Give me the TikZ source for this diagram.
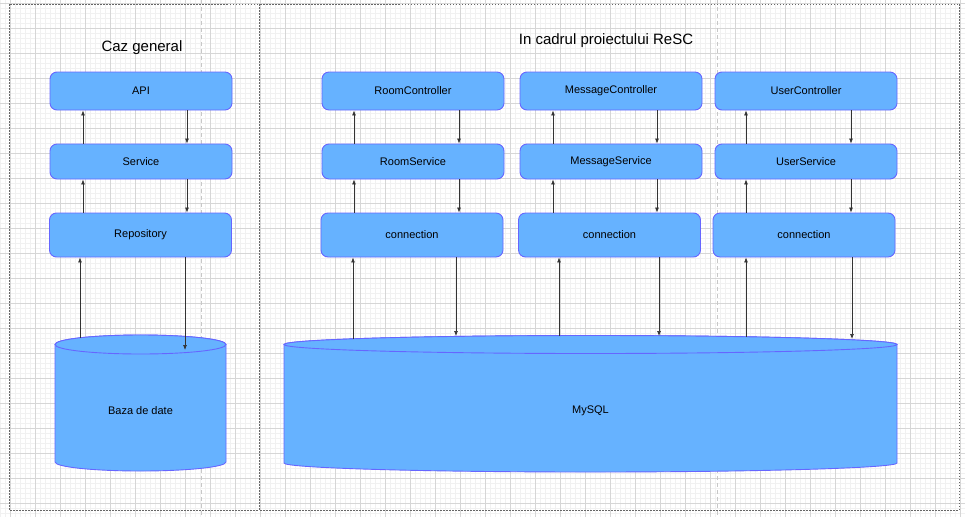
\documentclass[tikz,border=0pt]{standalone}
\usepackage{fontspec}
\setmainfont{Liberation Sans}
\usetikzlibrary{arrows.meta}
\definecolor{boxfill}{HTML}{66B2FF}
\definecolor{boxline}{HTML}{6666FF}
\definecolor{gridmin}{HTML}{F1F1F1}
\definecolor{gridmaj}{HTML}{D6D6D6}

\begin{document}
\begin{tikzpicture}[x=1pt,y=-1pt]
\tikzstyle{every node}=[font=\fontsize{11}{13}\selectfont]
\tikzstyle{layer}=[draw=boxline,fill=boxfill,rounded corners=7pt,minimum width=182pt,inner sep=0pt,line width=0.9pt]
\tikzstyle{ctrl}=[layer,minimum height=38pt]
\tikzstyle{svc}=[layer,minimum height=35pt]
\tikzstyle{conn}=[layer,minimum height=44pt]
\tikzstyle{flow}=[-{Latex[length=5pt,width=4pt]},draw=black!80,line width=0.7pt]
\tikzstyle{frame}=[draw=black!60,dash pattern=on 1.5pt off 1.5pt,line width=0.6pt]
\tikzstyle{pagebreak}=[draw=black!22,dash pattern=on 4pt off 3pt,line width=0.8pt]
\tikzstyle{db}=[draw=boxline,fill=boxfill,line width=0.9pt]
\tikzstyle{heading}=[font=\fontsize{15}{18}\selectfont]

\useasboundingbox (0,0) rectangle (965,517);
%% background grid
\foreach \x in {0,5,...,965} \draw[gridmin,line width=0.6pt] (\x,0) -- (\x,517);
\foreach \y in {3,8,...,517} \draw[gridmin,line width=0.6pt] (0,\y) -- (965,\y);
\foreach \x in {10,35,...,965} \draw[gridmaj,line width=0.6pt] (\x,0) -- (\x,517);
\foreach \y in {3,28,...,517} \draw[gridmaj,line width=0.6pt] (0,\y) -- (965,\y);
\draw[pagebreak] (201.5,0) -- (201.5,517);
\draw[pagebreak] (717.5,0) -- (717.5,517);

%% frames
\draw[frame] (9,4) rectangle (259,510);
\draw[frame] (259,4) rectangle (959,510);

\node[heading] (general) at (142,48) {Caz general};
\node[heading] (resc) at (606,41) {In cadrul proiectului ReSC};

%% general case
\node[ctrl] (api) at (141,91) {API};
\node[svc] (svc) at (141,161.5) {Service};
\node[conn] (repo) at (140.5,235) {Repository};

%% ReSC layers
\node[ctrl] (roomctrl) at (413,91) {RoomController};
\node[svc] (roomsvc) at (413,161.5) {RoomService};
\node[conn] (roomconn) at (412,235) {connection};

\node[ctrl] (msgctrl) at (611,91) {MessageController};
\node[svc] (msgsvc) at (611,161.5) {MessageService};
\node[conn] (msgconn) at (609.5,235) {connection};

\node[ctrl] (userctrl) at (806,91) {UserController};
\node[svc] (usersvc) at (806,161.5) {UserService};
\node[conn] (userconn) at (804,235) {connection};

%% databases
\path[db] (55,344.5) -- (55,462) arc[start angle=180,end angle=0,x radius=85.5,y radius=9]
  -- (226,344.5) arc[start angle=0,end angle=-180,x radius=85.5,y radius=9.5] -- cycle;
\path[db] (140.5,344.5) ellipse[x radius=85.5,y radius=9.5];
\node (bazadate) at (140.5,411) {Baza de date};

\path[db] (284,344.5) -- (284,463) arc[start angle=180,end angle=0,x radius=306.5,y radius=9]
  -- (897,344.5) arc[start angle=0,end angle=-180,x radius=306.5,y radius=9] -- cycle;
\path[db] (590.5,344.5) ellipse[x radius=306.5,y radius=9];
\node (mysql) at (590.5,411) {MySQL};

\coordinate (dbin) at (80,338);
\coordinate (dbout) at (185,350);
\coordinate (roomin) at (353,339);
\coordinate (roomout) at (456,336);
\coordinate (msgin) at (559,336);
\coordinate (msgout) at (659,336);
\coordinate (userin) at (746,337);
\coordinate (userout) at (852,339);

%% connectors
\draw[flow] ([xshift=-58]svc.north) -- ([xshift=-58]api.south);
\draw[flow] ([xshift=46]api.south) -- ([xshift=46]svc.north);
\draw[flow] ([xshift=-58]repo.north -| svc.north) -- ([xshift=-58]svc.south);
\draw[flow] ([xshift=46]svc.south) -- ([xshift=46]repo.north -| svc.south);
\draw[flow] (dbin) -- (dbin |- repo.south);
\draw[flow] (dbout |- repo.south) -- (dbout);

\draw[flow] ([xshift=-59]roomsvc.north) -- ([xshift=-59]roomctrl.south);
\draw[flow] ([xshift=46]roomctrl.south) -- ([xshift=46]roomsvc.north);
\draw[flow] ([xshift=-59]roomconn.north -| roomsvc.north) -- ([xshift=-59]roomsvc.south);
\draw[flow] ([xshift=46]roomsvc.south) -- ([xshift=46]roomconn.north -| roomsvc.south);
\draw[flow] (roomin) -- (roomin |- roomconn.south);
\draw[flow] (roomout |- roomconn.south) -- (roomout);

\draw[flow] ([xshift=-58]msgsvc.north) -- ([xshift=-58]msgctrl.south);
\draw[flow] ([xshift=46]msgctrl.south) -- ([xshift=46]msgsvc.north);
\draw[flow] ([xshift=-58]msgconn.north -| msgsvc.north) -- ([xshift=-58]msgsvc.south);
\draw[flow] ([xshift=46]msgsvc.south) -- ([xshift=46]msgconn.north -| msgsvc.south);
\draw[flow] (msgin) -- (msgin |- msgconn.south);
\draw[flow] (msgout |- msgconn.south) -- (msgout);

\draw[flow] ([xshift=-60]usersvc.north) -- ([xshift=-60]userctrl.south);
\draw[flow] ([xshift=45]userctrl.south) -- ([xshift=45]usersvc.north);
\draw[flow] ([xshift=-60]userconn.north -| usersvc.north) -- ([xshift=-60]usersvc.south);
\draw[flow] ([xshift=45]usersvc.south) -- ([xshift=45]userconn.north -| usersvc.south);
\draw[flow] (userin) -- (userin |- userconn.south);
\draw[flow] (userout |- userconn.south) -- (userout);
\end{tikzpicture}
\end{document}
